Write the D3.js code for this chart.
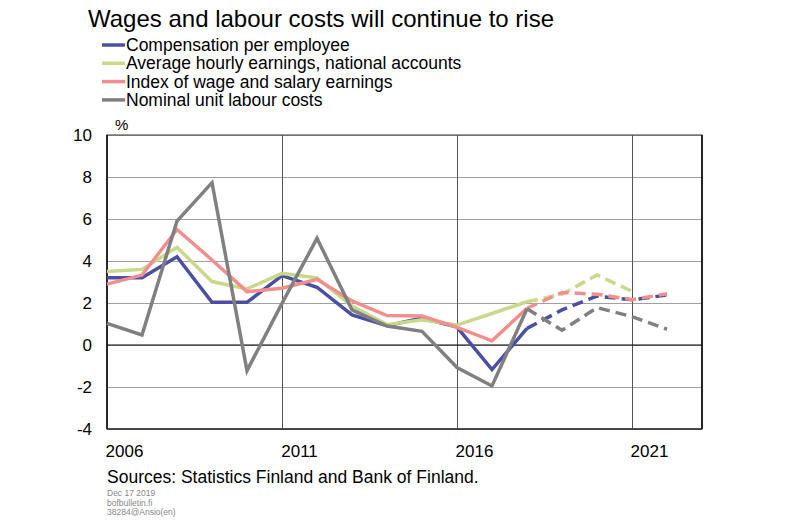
<!DOCTYPE html>
<html lang="en">
<head>
<meta charset="UTF-8">
<title>Wages and labour costs will continue to rise</title>
<script src="https://d3js.org/d3.v7.min.js"></script>
<style>
  body { margin: 0; background: #fff; font-family: Arial, "Liberation Sans", sans-serif; }
  svg text { fill: #000; }
</style>
</head>
<body>
<svg width="800" height="523"></svg>
<script>
// Data (annual % change); forecast from 2018 onward drawn dashed
const years = d3.range(2006, 2023);
const forecastStart = 2018;

const compensation = [3.2, 3.2, 4.2, 2.03, 2.03, 3.3, 2.75, 1.43, 0.92, 1.28, 0.85, -1.17, 0.79, 1.67, 2.33, 2.15, 2.38];
const hourlyEarnings = [3.5, 3.6, 4.65, 3.02, 2.67, 3.41, 3.2, 1.85, 0.97, 1.2, 0.95, 1.5, 2.06, 2.42, 3.33, 2.56, null];
const wageIndex = [2.9, 3.33, 5.5, 4.05, 2.54, 2.7, 3.13, 2.1, 1.4, 1.38, 0.84, 0.2, 1.75, 2.5, 2.42, 2.16, 2.44];
const unitLabourCosts = [1.03, 0.48, 5.9, 7.73, -1.22, 1.98, 5.08, 1.67, 0.9, 0.65, -1.07, -1.95, 1.73, 0.7, 1.78, 1.35, 0.75];

const seriesNames = [
  "Compensation per employee",
  "Average hourly earnings, national accounts",
  "Index of wage and salary earnings",
  "Nominal unit labour costs"
];
const seriesColors = ["#4b4fa3", "#c8d98a", "#f28e8e", "#808080"];
const seriesValues = [compensation, hourlyEarnings, wageIndex, unitLabourCosts];

const yTicks = [-4, -2, 0, 2, 4, 6, 8, 10];
const xLabelYears = [2006, 2011, 2016, 2021];

const svg = d3.select("svg");
const margin = { top: 135, left: 107, right: 98, bottom: 94 };
const width = 800 - margin.left - margin.right;
const height = 523 - margin.top - margin.bottom;

const x = d3.scaleLinear().domain([2006, 2023]).range([0, width]);
const y = d3.scaleLinear().domain([-4, 10]).range([height, 0]);

const g = svg.append("g").attr("transform", `translate(${margin.left},${margin.top})`);

// Horizontal grid lines
g.append("g")
  .call(d3.axisLeft(y).tickValues(yTicks).tickSize(-width).tickFormat(""))
  .call(s => s.select(".domain").remove())
  .selectAll("line")
  .attr("stroke", "#a0a0a0")
  .attr("stroke-width", 1.2);

// Vertical grid lines
g.append("g")
  .attr("transform", `translate(0,${height})`)
  .call(d3.axisBottom(x).tickValues([2011, 2016, 2021]).tickSize(-height).tickFormat(""))
  .call(s => s.select(".domain").remove())
  .selectAll("line")
  .attr("stroke", "#555")
  .attr("stroke-width", 1);

// Zero line
g.append("line")
  .attr("x1", 0).attr("x2", width)
  .attr("y1", y(0)).attr("y2", y(0))
  .attr("stroke", "#000").attr("stroke-width", 1.2);

// Frame
g.append("rect")
  .attr("width", width).attr("height", height)
  .attr("fill", "none").attr("stroke", "#555").attr("stroke-width", 1.2);
g.append("line")
  .attr("x1", 0).attr("x2", 0).attr("y1", 0).attr("y2", height)
  .attr("stroke", "#000").attr("stroke-width", 1.5);
g.append("line")
  .attr("x1", width).attr("x2", width).attr("y1", 0).attr("y2", height)
  .attr("stroke", "#000").attr("stroke-width", 1.5);
g.append("line")
  .attr("x1", 0).attr("x2", width).attr("y1", height).attr("y2", height)
  .attr("stroke", "#333").attr("stroke-width", 1.5);

// Y tick labels
g.selectAll(".ylab")
  .data(yTicks)
  .enter().append("text")
  .attr("x", -15)
  .attr("y", d => y(d) + 6)
  .attr("text-anchor", "end")
  .style("font-size", "17px")
  .text(d => d);

g.append("text")
  .attr("x", 8).attr("y", -5)
  .style("font-size", "15px")
  .text("%");

// X labels, centred in the year
g.selectAll(".xlab")
  .data(xLabelYears)
  .enter().append("text")
  .attr("x", d => x(d + 0.5))
  .attr("y", height + 28)
  .attr("text-anchor", "middle")
  .style("font-size", "17px")
  .text(d => d);

// Lines
const line = d3.line()
  .defined(d => d.v !== null)
  .x(d => x(d.year))
  .y(d => y(d.v));

seriesValues.forEach((vals, i) => {
  const pts = years.map((year, j) => ({ year, v: vals[j] }));
  const hist = pts.filter(d => d.year <= forecastStart);
  const fcst = pts.filter(d => d.year >= forecastStart && d.v !== null);
  g.append("path")
    .datum(hist)
    .attr("d", line)
    .attr("fill", "none")
    .attr("stroke", seriesColors[i])
    .attr("stroke-width", 3.5)
    .attr("stroke-linejoin", "miter");
  g.append("path")
    .datum(fcst)
    .attr("d", line)
    .attr("fill", "none")
    .attr("stroke", seriesColors[i])
    .attr("stroke-width", 3.5)
    .attr("stroke-dasharray", "11,6");
});

// Title
svg.append("text")
  .attr("x", 88).attr("y", 27)
  .style("font-size", "24px")
  .text("Wages and labour costs will continue to rise");

// Legend
const legend = svg.append("g").attr("transform", "translate(102,45)");
seriesNames.forEach((name, i) => {
  const row = legend.append("g").attr("transform", `translate(0,${i * 18.3})`);
  row.append("line")
    .attr("x1", 0).attr("x2", 23)
    .attr("y1", 0).attr("y2", 0)
    .attr("stroke", seriesColors[i])
    .attr("stroke-width", 3.5);
  row.append("text")
    .attr("x", 24).attr("y", 6)
    .style("font-size", "17.5px")
    .text(name);
});

// Sources and footer
svg.append("text")
  .attr("x", 107).attr("y", 483)
  .style("font-size", "17.5px")
  .text("Sources: Statistics Finland and Bank of Finland.");

const footer = ["Dec 17 2019", "bofbulletin.fi", "38284@Ansio(en)"];
svg.selectAll(".foot")
  .data(footer)
  .enter().append("text")
  .attr("x", 107)
  .attr("y", (d, i) => 496 + i * 9.5)
  .style("font-size", "8.5px")
  .style("fill", "#888")
  .text(d => d);
</script>
</body>
</html>
